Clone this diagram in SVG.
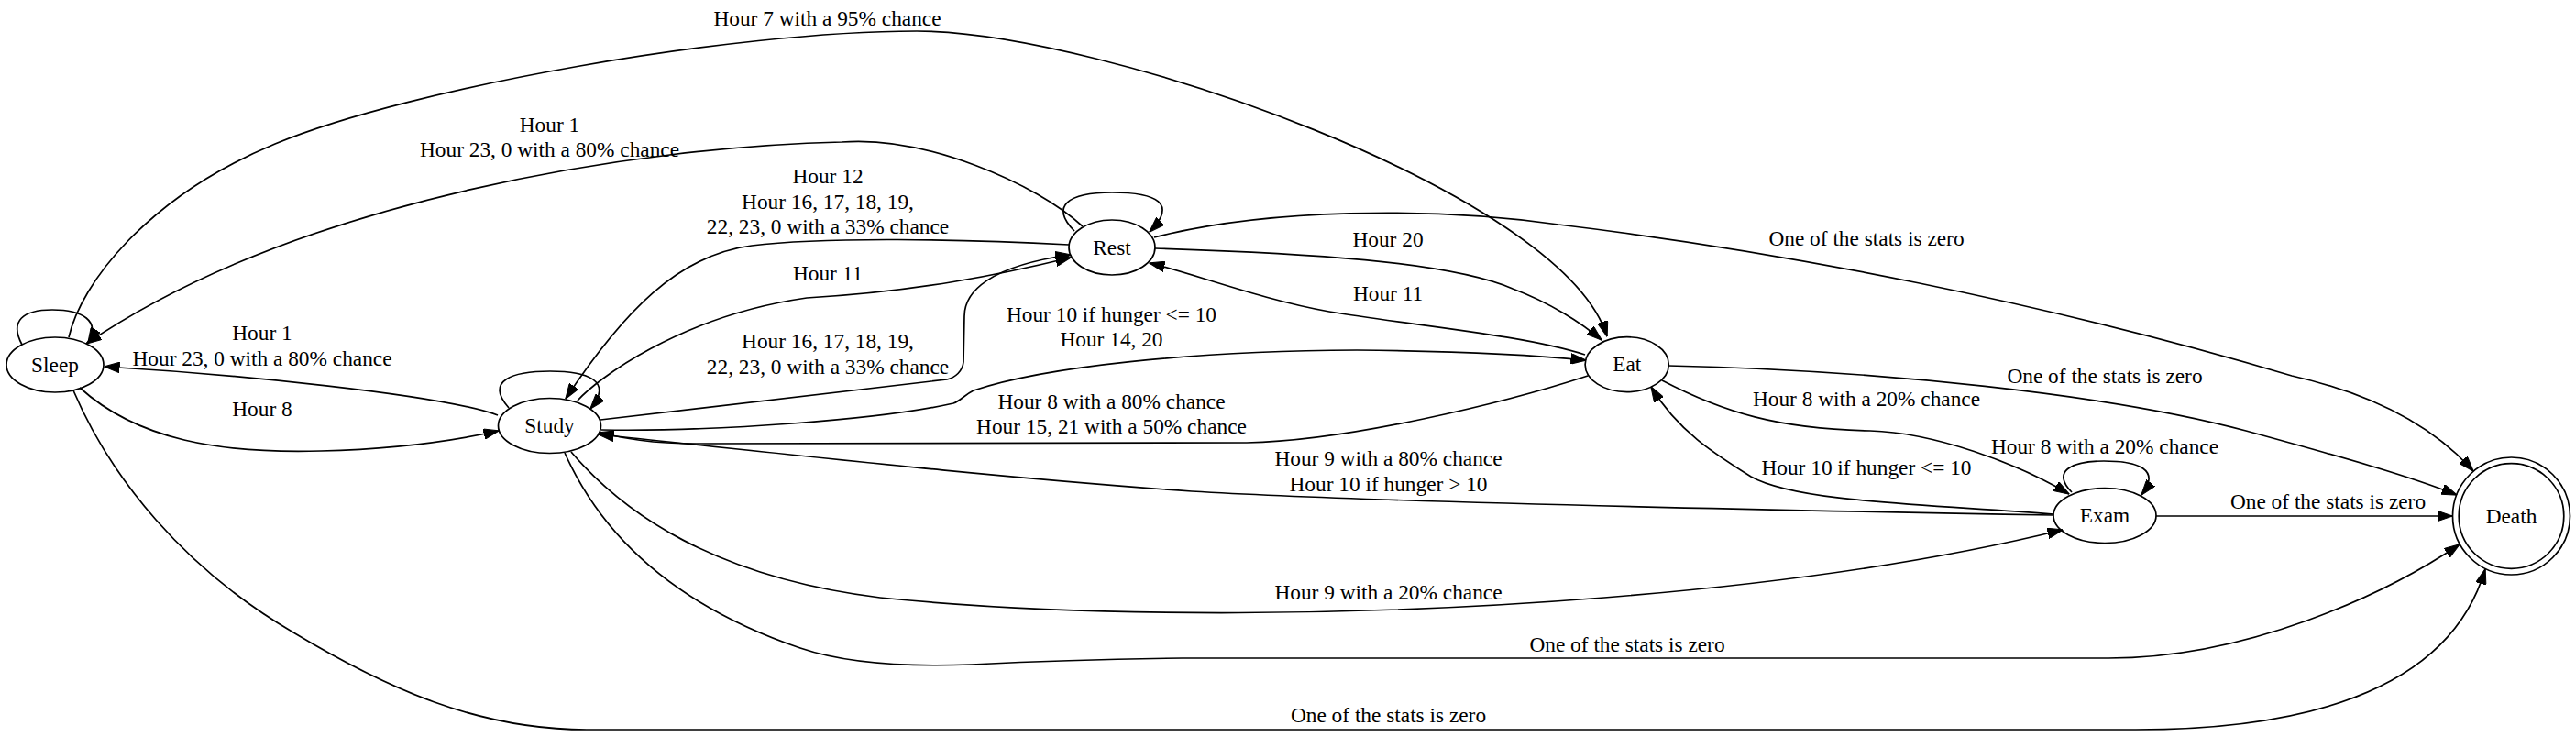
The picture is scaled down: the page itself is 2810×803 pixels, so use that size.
<svg xmlns="http://www.w3.org/2000/svg" width="2810" height="803" viewBox="0 0 2810 803">
<style>
.e{fill:none;stroke:#000;stroke-width:1.7;marker-end:url(#ah)}
.n{fill:none;stroke:#000;stroke-width:1.7}
text{font-family:"Liberation Serif","Times New Roman",serif;font-size:23.33px;text-anchor:middle;fill:#000}
</style>
<defs>
<marker id="ah" viewBox="0 0 17 12" refX="16.5" refY="6" markerWidth="17" markerHeight="12" markerUnits="userSpaceOnUse" orient="auto">
<path d="M0,0.2 L17,6 L0,11.8 z" fill="#000" stroke="#000" stroke-width="1"/>
</marker>
</defs>
<rect width="2810" height="803" fill="#fff"/>
<g id="edges">
<path id="sleep-sleep" class="e" d="M24,376 C 10,350 25,338 57,338 C 90,338 110,350 96,374"/>
<path id="sleep-eat" class="e" d="M75,368 C 88,310 160,215 300,157 C 450,95 800,34 1000,34 C 1200,34 1705,210 1753,367"/>
<path id="rest-sleep" class="e" d="M1181,247 C 1130,200 1010,148 918,155 C 700,160 330,215 94,375"/>
<path id="rest-study" class="e" d="M1166,267 C 1050,261 900,258 820,268 C 740,278 680,340 617,435"/>
<path id="study-rest-1" class="e" d="M630,437 C 650,415 740,345 880,325 C 1000,318 1090,300 1168,281"/>
<path id="study-sleep" class="e" d="M543,453 C 480,430 250,408 114,400"/>
<path id="sleep-study" class="e" d="M87,423 C 150,480 240,495 350,492 C 430,490 490,482 544,470"/>
<path id="study-study" class="e" d="M555,445 C 528,415 560,405 600,405 C 640,405 670,415 644,446"/>
<path id="study-rest-2" class="e" d="M655,458 L1033,414 C 1042,412 1050,405 1051,395 L1052,345 C 1052,318 1080,290 1168,278"/>
<path id="rest-rest" class="e" d="M1172,252 C 1145,225 1165,210 1213,210 C 1262,210 1285,222 1254,253"/>
<path id="rest-eat" class="e" d="M1260,271 C 1420,276 1580,285 1650,315 C 1690,330 1725,352 1747,371"/>
<path id="eat-rest" class="e" d="M1729,387 C 1660,365 1540,355 1450,340 C 1380,328 1300,298 1254,287"/>
<path id="rest-death" class="e" d="M1259,259 C 1380,228 1560,225 1700,245 C 1950,275 2230,330 2500,410 C 2580,428 2650,460 2698,514"/>
<path id="study-eat" class="e" d="M656,469 C 780,471 960,458 1040,440 C 1048,437 1052,431 1062,426 C 1140,400 1300,383 1480,382 C 1600,383 1680,388 1730,393"/>
<path id="eat-study" class="e" d="M1732,410 C 1640,440 1470,481 1360,483 L760,484 C 710,484 680,478 653,472"/>
<path id="exam-study" class="e" d="M2240,562 C 1900,556 1500,548 1300,536 C 1100,522 900,500 653,474"/>
<path id="eat-death" class="e" d="M1820,399 C 2050,404 2300,430 2450,470 C 2560,500 2630,520 2680,540"/>
<path id="eat-exam" class="e" d="M1813,415 C 1880,450 1940,468 2040,470 C 2110,472 2200,505 2257,539"/>
<path id="exam-eat" class="e" d="M2240,561 C 2100,550 1960,548 1910,520 C 1870,495 1830,470 1801,422"/>
<path id="exam-exam" class="e" d="M2260,537 C 2238,515 2258,503 2295,503 C 2332,503 2358,512 2336,540"/>
<path id="exam-death" class="e" d="M2352,563 L2675,563"/>
<path id="study-exam" class="e" d="M623,493 C 680,560 780,630 960,652 C 1200,676 1500,672 1750,652 C 1950,636 2120,610 2250,578"/>
<path id="study-death" class="e" d="M616,494 C 650,570 720,655 873,707 C 920,723 980,728 1060,725 C 1120,722 1200,719 1290,718 L2300,718 C 2450,718 2600,650 2683,594"/>
<path id="sleep-death" class="e" d="M80,426 C 120,520 200,620 320,690 C 420,750 520,796 640,796 L2330,796 C 2500,796 2670,760 2711,621"/>
</g>
<g id="edge-labels">
<text x="902.5" y="27.5">Hour 7 with a 95% chance</text>
<text x="599.5" y="143.5">Hour 1</text>
<text x="599.5" y="171">Hour 23, 0 with a 80% chance</text>
<text x="903" y="200">Hour 12</text>
<text x="903" y="227.5">Hour 16, 17, 18, 19,</text>
<text x="903" y="255">22, 23, 0 with a 33% chance</text>
<text x="903" y="306">Hour 11</text>
<text x="903" y="380">Hour 16, 17, 18, 19,</text>
<text x="903" y="407.5">22, 23, 0 with a 33% chance</text>
<text x="286" y="371">Hour 1</text>
<text x="286" y="398.5">Hour 23, 0 with a 80% chance</text>
<text x="286" y="453.5">Hour 8</text>
<text x="1514" y="268.5">Hour 20</text>
<text x="1514" y="328">Hour 11</text>
<text x="1212.5" y="350.7">Hour 10 if hunger &lt;= 10</text>
<text x="1212.5" y="378.2">Hour 14, 20</text>
<text x="1212.5" y="445.5">Hour 8 with a 80% chance</text>
<text x="1212.5" y="473">Hour 15, 21 with a 50% chance</text>
<text x="1514.5" y="508">Hour 9 with a 80% chance</text>
<text x="1514.5" y="535.5">Hour 10 if hunger &gt; 10</text>
<text x="1514.5" y="653.5">Hour 9 with a 20% chance</text>
<text x="1775" y="711">One of the stats is zero</text>
<text x="1514.5" y="787.5">One of the stats is zero</text>
<text x="2036" y="268">One of the stats is zero</text>
<text x="2296" y="418">One of the stats is zero</text>
<text x="2036" y="442.5">Hour 8 with a 20% chance</text>
<text x="2296" y="495">Hour 8 with a 20% chance</text>
<text x="2036" y="518">Hour 10 if hunger &lt;= 10</text>
<text x="2539.5" y="555">One of the stats is zero</text>
</g>
<g id="node-sleep"><ellipse class="n" cx="60" cy="398" rx="53" ry="30"/><text x="60" y="405.5">Sleep</text></g>
<g id="node-study"><ellipse class="n" cx="599.5" cy="464.5" rx="56" ry="30"/><text x="599.5" y="472">Study</text></g>
<g id="node-rest"><ellipse class="n" cx="1213" cy="270" rx="47" ry="30"/><text x="1213" y="277.5">Rest</text></g>
<g id="node-eat"><ellipse class="n" cx="1774.7" cy="397.7" rx="45.6" ry="30"/><text x="1774.7" y="405.2">Eat</text></g>
<g id="node-exam"><ellipse class="n" cx="2296" cy="562.5" rx="56" ry="30"/><text x="2296" y="570">Exam</text></g>
<g id="node-death"><circle class="n" cx="2739.5" cy="563" r="64"/><circle class="n" cx="2739.5" cy="563" r="57.3"/><text x="2739.5" y="570.5">Death</text></g>
</svg>
